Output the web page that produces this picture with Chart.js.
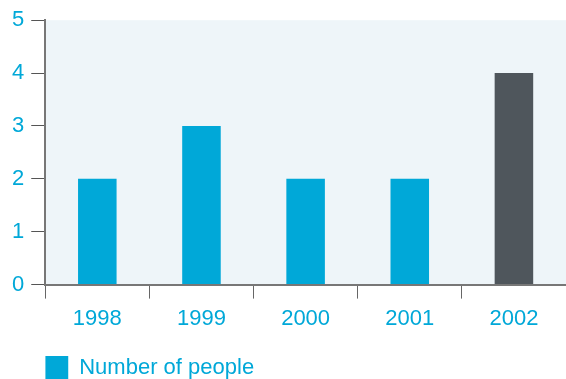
<!DOCTYPE html>
<html>
<head>
<meta charset="utf-8">
<script src="https://cdn.jsdelivr.net/npm/chart.js@4"></script>
<style>
  html, body { margin: 0; padding: 0; background: #fff; }
  #wrap { width: 566px; height: 379px; position: relative; }
</style>
</head>
<body>
<div id="wrap"><canvas id="people"></canvas></div>
<script>
const years = ['1998', '1999', '2000', '2001', '2002'];
const people = [2, 3, 2, 2, 4];
const barColors = ['#00a8d8', '#00a8d8', '#00a8d8', '#00a8d8', '#4f565c'];
const yTicks = [0, 1, 2, 3, 4, 5];

const BLUE = '#00a8d8';
const FONT = "'Liberation Sans', Arial, sans-serif";

// light panel behind the plot
const plotBg = {
    id: 'plotBg',
    beforeDraw(chart) {
        const { ctx, chartArea: a } = chart;
        ctx.save();
        ctx.fillStyle = '#eef5f9';
        ctx.fillRect(a.left, a.top, a.right - a.left, a.bottom - a.top);
        ctx.restore();
    }
};

// push the legend down to the bottom edge
const legendDown = {
    id: 'legendDown',
    afterLayout(chart) {
        const lg = chart.legend;
        if (!lg) return;
        const d = 356 - lg.top;
        lg.top += d;
        lg.bottom += d;
    }
};

new Chart(document.getElementById('people'), {
    type: 'bar',
    data: {
        labels: years,
        datasets: [{
            label: 'Number of people',
            data: people,
            backgroundColor: barColors,
            barPercentage: 0.37,
            categoryPercentage: 1
        }]
    },
    options: {
        responsive: true,
        maintainAspectRatio: false,
        animation: false,
        layout: { padding: { top: 5, right: 0, left: 5, bottom: 7 } },
        scales: {
            x: {
                grid: {
                    offset: true,
                    drawOnChartArea: false,
                    tickLength: 14,
                    tickColor: '#666'
                },
                border: { color: '#777', width: 2 },
                ticks: {
                    color: BLUE,
                    padding: 7,
                    font: { family: FONT, size: 22 }
                }
            },
            y: {
                min: 0,
                max: 5,
                afterBuildTicks(axis) {
                    axis.ticks = yTicks.map(v => ({ value: v }));
                },
                grid: {
                    drawOnChartArea: false,
                    tickLength: 14,
                    tickColor: '#555'
                },
                border: { color: '#777', width: 2 },
                ticks: {
                    color: BLUE,
                    padding: 7,
                    font: { family: FONT, size: 22 }
                }
            }
        },
        plugins: {
            tooltip: { enabled: false },
            legend: {
                position: 'bottom',
                align: 'start',
                fullSize: false,
                labels: {
                    boxWidth: 23,
                    boxHeight: 23,
                    padding: 0,
                    color: BLUE,
                    font: { family: FONT, size: 22 },
                    generateLabels: () => [{
                        text: 'Number of people',
                        fillStyle: BLUE,
                        strokeStyle: BLUE,
                        fontColor: BLUE,
                        lineWidth: 0,
                        hidden: false,
                        datasetIndex: 0
                    }]
                }
            }
        }
    },
    plugins: [plotBg, legendDown]
});
</script>
</body>
</html>
